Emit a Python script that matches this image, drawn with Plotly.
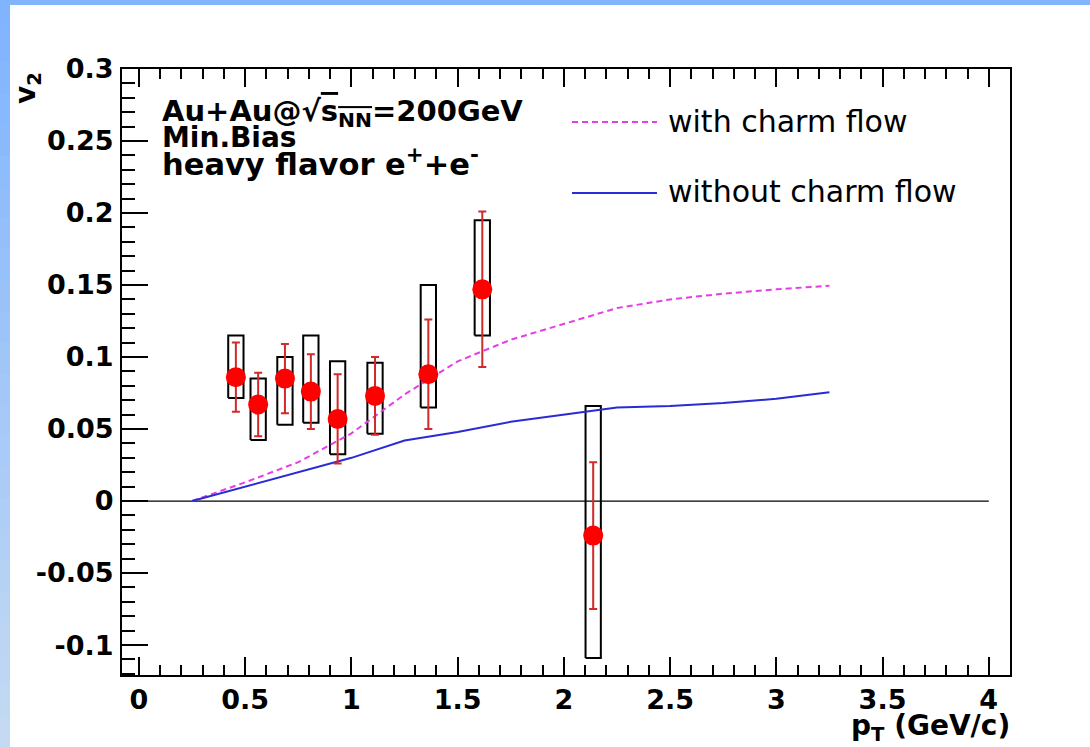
import plotly.graph_objects as go

# ---- measured heavy-flavour electron v2 (Au+Au, 200 GeV, min. bias) ----
pt = [0.456, 0.561, 0.687, 0.809, 0.935, 1.111, 1.362, 1.616, 2.138]
v2 = [0.086, 0.067, 0.085, 0.076, 0.057, 0.073, 0.088, 0.147, -0.024]
stat_err = [0.024, 0.022, 0.024, 0.026, 0.031, 0.027, 0.038, 0.054, 0.051]
sys_up = [0.029, 0.018, 0.015, 0.039, 0.040, 0.023, 0.062, 0.048, 0.090]
sys_down = [0.0145, 0.0246, 0.032, 0.0216, 0.0246, 0.0262, 0.023, 0.032, 0.085]

# ---- model curves ----
model_pt = [0.25, 0.5, 0.75, 1.0, 1.25, 1.5, 1.75, 2.0, 2.25, 2.5, 2.75, 3.0, 3.25]
v2_with_charm = [0.0, 0.013, 0.027, 0.047, 0.074, 0.097, 0.112, 0.123, 0.134, 0.140, 0.144, 0.147, 0.1495]
v2_without_charm = [0.0, 0.010, 0.020, 0.030, 0.042, 0.048, 0.055, 0.060, 0.065, 0.066, 0.068, 0.071, 0.0755]

# ---- axes ----
x_tick_vals = [0, 0.5, 1, 1.5, 2, 2.5, 3, 3.5, 4]
x_tick_text = ["0", "0.5", "1", "1.5", "2", "2.5", "3", "3.5", "4"]
y_tick_vals = [-0.1, -0.05, 0, 0.05, 0.1, 0.15, 0.2, 0.25, 0.3]
y_tick_text = ["-0.1", "-0.05", "0", "0.05", "0.1", "0.15", "0.2", "0.25", "0.3"]
x_range = [-0.08, 4.1]
y_range = [-0.1208, 0.3]
zero_line_x = [-0.08, 4.0]

legend_labels = ["with charm flow", "without charm flow"]
info_lines = [
    "<b>Au+Au@\u221a<span style='text-decoration:overline'>s<sub>NN</sub></span>=200GeV</b>",
    "<b>Min.Bias</b>",
    "<b>heavy flavor e<sup>+</sup>+e<sup>-</sup></b>",
]

W, H = 1090, 747
L, R, T, B = 122, 1010, 69, 675
FONT = "DejaVu Sans"
MAGENTA = "#e63ee6"
BLUE = "#2b2bd6"
ERR_RED = "#d02a2a"


def px(xp):
    return (xp - L) / (R - L)


def py(yp):
    return (B - yp) / (B - T)


fig = go.Figure()

# systematic boxes drawn as closed outlines
half_w = 0.036
bx, by = [], []
for x, y, up, dn in zip(pt, v2, sys_up, sys_down):
    bx += [x - half_w, x + half_w, x + half_w, x - half_w, x - half_w, None]
    by += [y - dn, y - dn, y + up, y + up, y - dn, None]
fig.add_trace(go.Scatter(x=bx, y=by, mode="lines",
                         line=dict(color="black", width=2), hoverinfo="skip"))

# zero reference line
fig.add_trace(go.Scatter(x=zero_line_x, y=[0, 0], mode="lines",
                         line=dict(color="black", width=1.3), hoverinfo="skip"))

# model curves
fig.add_trace(go.Scatter(x=model_pt, y=v2_with_charm, mode="lines",
                         line=dict(color=MAGENTA, width=2, dash="6px,4px")))
fig.add_trace(go.Scatter(x=model_pt, y=v2_without_charm, mode="lines",
                         line=dict(color=BLUE, width=2)))

# data with statistical errors
fig.add_trace(go.Scatter(
    x=pt, y=v2, mode="markers",
    marker=dict(color="#ff0000", size=20, line=dict(width=0)),
    error_y=dict(type="data", array=stat_err, visible=True,
                 color=ERR_RED, thickness=2, width=4),
))

shapes = []
# slide background bands (top bar, left gradient strip)
n_steps = 24
for i in range(n_steps):
    f = i / (n_steps - 1)
    r = int(0x80 + (0xc4 - 0x80) * f)
    g = int(0xb4 + (0xda - 0xb4) * f)
    b = int(0xff + (0xf2 - 0xff) * f)
    shapes.append(dict(type="rect", xref="paper", yref="paper",
                       x0=px(0), x1=px(10),
                       y0=py(H * (i + 1) / n_steps + 2), y1=py(H * i / n_steps),
                       fillcolor=f"rgb({r},{g},{b})", line=dict(width=0),
                       layer="below"))
shapes.append(dict(type="rect", xref="paper", yref="paper",
                   x0=px(0), x1=px(W), y0=py(5), y1=py(0),
                   fillcolor="#80b4ff", line=dict(width=0), layer="below"))

# legend samples
shapes.append(dict(type="line", xref="paper", yref="paper",
                   x0=px(572), x1=px(657), y0=py(122), y1=py(122),
                   line=dict(color=MAGENTA, width=2, dash="6px,4px")))
shapes.append(dict(type="line", xref="paper", yref="paper",
                   x0=px(572), x1=px(657), y0=py(193), y1=py(193),
                   line=dict(color=BLUE, width=2)))

annotations = []
annotations.append(dict(text=legend_labels[0], xref="paper", yref="paper",
                        x=px(666), y=py(121), xanchor="left", yanchor="middle",
                        showarrow=False, font=dict(family=FONT, size=30, color="black")))
annotations.append(dict(text=legend_labels[1], xref="paper", yref="paper",
                        x=px(666), y=py(191), xanchor="left", yanchor="middle",
                        showarrow=False, font=dict(family=FONT, size=30, color="black")))

info_y = [113, 137, 162]
info_size = [29, 28, 30.5]
for txt, yy, sz in zip(info_lines, info_y, info_size):
    annotations.append(dict(text=txt, xref="paper", yref="paper",
                            x=px(160), y=py(yy), xanchor="left", yanchor="middle",
                            showarrow=False,
                            font=dict(family=FONT, size=sz, color="black")))

# axis titles
annotations.append(dict(text="<b>v<sub>2</sub></b>", xref="paper", yref="paper",
                        x=px(27), y=py(88), xanchor="center", yanchor="middle",
                        textangle=-90, showarrow=False,
                        font=dict(family=FONT, size=28, color="black")))
annotations.append(dict(text="<b>p<sub>T</sub> (GeV/c)</b>", xref="paper", yref="paper",
                        x=px(1012), y=py(707), xanchor="right", yanchor="top",
                        showarrow=False,
                        font=dict(family=FONT, size=28, color="black")))

fig.update_layout(
    width=W, height=H,
    margin=dict(l=L, r=W - R, t=T, b=H - B),
    paper_bgcolor="white", plot_bgcolor="white",
    showlegend=False,
    shapes=shapes, annotations=annotations,
)

fig.update_xaxes(
    range=x_range, tickvals=x_tick_vals, ticktext=x_tick_text,
    ticks="inside", ticklen=18, tickwidth=1.5, tickcolor="black",
    minor=dict(dtick=0.1, tick0=0, ticks="inside", ticklen=10,
               tickwidth=1.5, tickcolor="black", showgrid=False),
    showline=True, linecolor="black", linewidth=2, mirror="ticks",
    showgrid=False, zeroline=False,
    tickfont=dict(family=FONT, size=27, color="black", weight="bold"),
    ticklabelstandoff=0,
)
fig.update_yaxes(
    range=y_range, tickvals=y_tick_vals, ticktext=y_tick_text,
    ticks="inside", ticklen=26, tickwidth=1.5, tickcolor="black",
    minor=dict(dtick=0.01, tick0=0, ticks="inside", ticklen=13,
               tickwidth=1.5, tickcolor="black", showgrid=False),
    showline=True, linecolor="black", linewidth=2, mirror=True,
    showgrid=False, zeroline=False,
    tickfont=dict(family=FONT, size=27, color="black", weight="bold"),
    ticklabelstandoff=1,
)

fig.write_html("out.html")
